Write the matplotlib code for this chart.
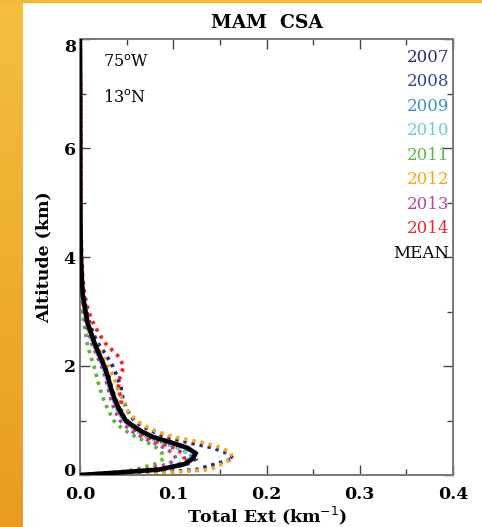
import numpy as np
import matplotlib
matplotlib.use("Agg")
import matplotlib.pyplot as plt
from matplotlib.ticker import MultipleLocator
from matplotlib.colors import LinearSegmentedColormap
import matplotlib.transforms as mtransforms

# ---------------- data ----------------
heights = [0.0, 0.05, 0.1, 0.2, 0.3, 0.4, 0.5, 0.6, 0.7, 0.8, 0.9, 1.0, 1.2, 1.4,
           1.6, 1.8, 2.0, 2.2, 2.4, 2.6, 2.8, 3.0, 3.3, 3.6, 4.0, 4.5, 5.0, 6.0, 7.0, 8.0]

years = ["2007", "2008", "2009", "2010", "2011", "2012", "2013", "2014"]
colors = ["#2a2b78", "#2f4597", "#3c8fd3", "#6ccbda", "#5cb83b", "#f6a81f", "#b6479d", "#e8282b"]

ext_2007 = [0.0, 0.09, 0.125, 0.145, 0.165, 0.158, 0.142, 0.115, 0.092, 0.078, 0.066, 0.058, 0.05, 0.046,
            0.044, 0.04, 0.035, 0.028, 0.02, 0.014, 0.01, 0.007, 0.004, 0.002, 0.001, 0.0005, 0.0003, 0.0002, 0.0001, 0.0]
ext_2008 = [0.0, 0.06, 0.09, 0.115, 0.125, 0.125, 0.112, 0.095, 0.078, 0.066, 0.058, 0.05, 0.043, 0.038,
            0.034, 0.031, 0.027, 0.021, 0.016, 0.012, 0.008, 0.006, 0.003, 0.002, 0.001, 0.0005, 0.0003, 0.0002, 0.0001, 0.0]
ext_2009 = [0.0, 0.05, 0.085, 0.11, 0.12, 0.118, 0.105, 0.088, 0.072, 0.062, 0.054, 0.047, 0.04, 0.036,
            0.032, 0.029, 0.025, 0.02, 0.015, 0.011, 0.008, 0.005, 0.003, 0.002, 0.001, 0.0005, 0.0003, 0.0002, 0.0001, 0.0]
ext_2010 = [0.0, 0.05, 0.08, 0.105, 0.115, 0.115, 0.104, 0.088, 0.073, 0.062, 0.054, 0.047, 0.04, 0.035,
            0.031, 0.028, 0.024, 0.019, 0.014, 0.01, 0.007, 0.005, 0.003, 0.002, 0.001, 0.0005, 0.0003, 0.0002, 0.0001, 0.0]
ext_2011 = [0.0, 0.04, 0.06, 0.08, 0.09, 0.088, 0.082, 0.072, 0.06, 0.05, 0.042, 0.036, 0.03, 0.025,
            0.021, 0.018, 0.015, 0.011, 0.008, 0.006, 0.004, 0.003, 0.002, 0.001, 0.0005, 0.0003, 0.0002, 0.0001, 0.0, 0.0]
ext_2012 = [0.0, 0.1, 0.14, 0.152, 0.163, 0.162, 0.152, 0.13, 0.1, 0.082, 0.07, 0.06, 0.05, 0.045,
            0.04, 0.036, 0.03, 0.024, 0.017, 0.012, 0.008, 0.005, 0.003, 0.002, 0.001, 0.0005, 0.0003, 0.0002, 0.0001, 0.0]
ext_2013 = [0.0, 0.04, 0.07, 0.095, 0.103, 0.1, 0.09, 0.078, 0.066, 0.056, 0.049, 0.043, 0.037, 0.033,
            0.03, 0.027, 0.023, 0.018, 0.013, 0.009, 0.006, 0.004, 0.003, 0.002, 0.001, 0.001, 0.001, 0.001, 0.001, 0.0]
ext_2014 = [0.0, 0.06, 0.09, 0.108, 0.112, 0.11, 0.1, 0.085, 0.072, 0.062, 0.055, 0.049, 0.044, 0.044,
            0.041, 0.043, 0.047, 0.04, 0.028, 0.02, 0.014, 0.009, 0.005, 0.003, 0.002, 0.001, 0.001, 0.001, 0.001, 0.0]
ext_mean = [0.0, 0.045, 0.085, 0.112, 0.121, 0.124, 0.115, 0.097, 0.078, 0.066, 0.057, 0.049, 0.042, 0.037,
            0.033, 0.03, 0.026, 0.021, 0.016, 0.012, 0.008, 0.006, 0.003, 0.002, 0.001, 0.0005, 0.0003, 0.0002, 0.0001, 0.0]

series = [ext_2007, ext_2008, ext_2009, ext_2010, ext_2011, ext_2012, ext_2013, ext_2014]

xticks = [0.0, 0.1, 0.2, 0.3, 0.4]
xticklabels = ["0.0", "0.1", "0.2", "0.3", "0.4"]
yticks = [0, 2, 4, 6, 8]

# ---------------- figure ----------------
W, H = 482, 527
fig = plt.figure(figsize=(W / 100, H / 100), dpi=100)
fig.patch.set_facecolor("white")

# decorative orange strip on the left and thin line on top
grad = np.linspace(0, 1, 256).reshape(-1, 1)
strip_ax = fig.add_axes([0, 0, 23 / W, 1])
cmap = LinearSegmentedColormap.from_list("strip", ["#f3bf3f", "#e99c1f"])
strip_ax.imshow(grad, aspect="auto", cmap=cmap, extent=[0, 1, 0, 1], origin="upper")
strip_ax.axis("off")
fig.add_artist(plt.Rectangle((0, 1 - 2 / H), 1, 2 / H, transform=fig.transFigure,
                             color="#f2b733", zorder=5))

top_px, bot_px, left_px, right_px = 39, 475, 80, 453
ax = fig.add_axes([left_px / W, 1 - bot_px / H, (right_px - left_px) / W, (bot_px - top_px) / H])

hs = np.array(heights)
for name, vals, c in zip(years, series, colors):
    ax.plot(vals, hs, color=c, lw=2.7, linestyle=(0, (0.9, 1.3)), zorder=2)
ax.plot(ext_mean, hs, color="black", lw=3.3, zorder=3, solid_capstyle="round")

ax.set_xlim(0, 0.4)
ax.set_ylim(0, 8)
ax.xaxis.set_minor_locator(MultipleLocator(0.05))
ax.yaxis.set_minor_locator(MultipleLocator(1))
ax.set_xticks(xticks)
ax.set_xticklabels(xticklabels)
ax.set_yticks(yticks)
ax.set_yticklabels([str(v) for v in yticks])
ax.tick_params(which="both", direction="in", top=True, right=True, color="#444444")
ax.tick_params(which="major", length=7, width=1.0)
ax.tick_params(which="minor", length=4, width=1.0)
for s in ax.spines.values():
    s.set_color("#777777")
    s.set_linewidth(1.4)

serif = ["DejaVu Serif"]
for lab in ax.get_xticklabels() + ax.get_yticklabels():
    lab.set_fontfamily(serif)
    lab.set_fontweight("bold")
    lab.set_fontsize(12.5)
ax.tick_params(axis="x", pad=8)
ax.tick_params(axis="y", pad=3)

# nudge end labels of the y axis like the reference
ylabs = ax.get_yticklabels()
ylabs[0].set_transform(ylabs[0].get_transform() + mtransforms.ScaledTranslation(0, 5 / 100, fig.dpi_scale_trans))
ylabs[-1].set_transform(ylabs[-1].get_transform() + mtransforms.ScaledTranslation(0, -6 / 100, fig.dpi_scale_trans))

ax.set_xlabel("Total Ext (km$^{-1}$)", fontsize=12.5, fontweight="bold", family=serif, labelpad=1)
ax.set_ylabel("Altitude (km)", fontsize=12.5, fontweight="bold", family=serif, labelpad=8)
ax.set_title("MAM  CSA", fontsize=13.5, fontweight="bold", family=serif, pad=8)

ax.text(0.062, (bot_px - 62) / (bot_px - top_px), "75$^{\\rm o}$W", transform=ax.transAxes, fontsize=11.5,
        family=serif, va="center", ha="left")
ax.text(0.062, (bot_px - 97) / (bot_px - top_px), "13$^{\\rm o}$N", transform=ax.transAxes, fontsize=11.5,
        family=serif, va="center", ha="left")

labels = years + ["MEAN"]
lcolors = colors + ["black"]
for i, (t, c) in enumerate(zip(labels, lcolors)):
    ypx = 57 + i * 24.5
    ax.text(0.99, (bot_px - ypx) / (bot_px - top_px), t, transform=ax.transAxes, color=c, fontsize=12,
            family=serif, ha="right", va="center")

fig.savefig("out.png", dpi=100)
